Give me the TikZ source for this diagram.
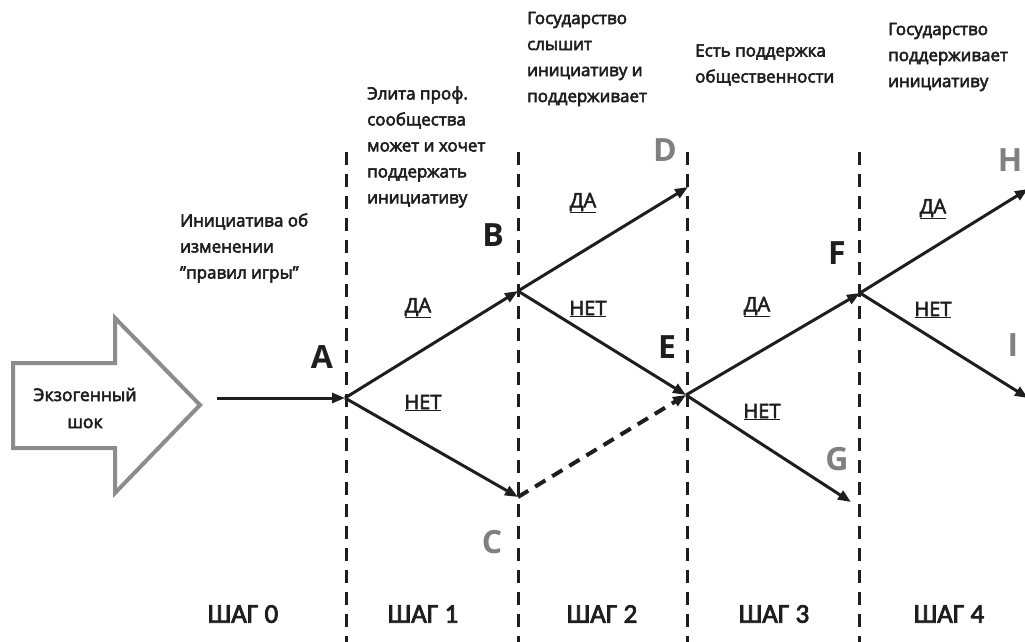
\documentclass[tikz,border=0pt]{standalone}
\usepackage{fontspec}
\setmainfont{Open Sans}
\newfontfamily\stepfont{Carlito}
\newcommand\embold[2][0.55]{\special{pdf:literal direct 2 Tr #1 w}#2\special{pdf:literal direct 0 Tr}}
\usetikzlibrary{arrows.meta}
\definecolor{lblgray}{RGB}{128,128,128}
\definecolor{shockgray}{RGB}{140,140,140}
\definecolor{ink}{RGB}{30,30,30}
\begin{document}
\begin{tikzpicture}[x=1pt,y=-1pt,
  vline/.style={line width=3pt, draw=ink, dash pattern=on 13pt off 9pt},
  arr/.style={line width=3pt, draw=ink, -{Triangle[length=13pt,width=10pt]}},
  darr/.style={arr, dash pattern=on 12pt off 8pt, line width=4pt},
  txt/.style={font=\fontsize{17}{26}\selectfont, align=left, anchor=west, inner sep=0pt, text=ink},
  lbl/.style={font=\fontsize{32}{32}\selectfont\bfseries, text=ink, inner sep=0pt},
  glbl/.style={lbl, text=lblgray},
  yn/.style={font=\fontsize{20}{22}\selectfont, text=ink, inner sep=0pt},
  steplbl/.style={font=\stepfont\fontsize{27}{27}\selectfont, text=ink, inner sep=0pt},
  shock/.style={draw=shockgray, line width=4pt, fill=white, line join=miter}
]
\useasboundingbox (0,0) rectangle (1025,641);
% dashed step separators
\foreach \x/\n in {346/v0,518/v1,687/v2,859/v3}{
  \coordinate (\n t) at (\x,152);
  \coordinate (\n b) at (\x,645);
  \draw[vline] (\n t) -- (\n b);
}
% exogenous shock arrow
\draw[shock] (13,363) -- (115,363) -- (115,318) -- (200,405) -- (115,493) -- (115,448) -- (13,448) -- cycle;
\node[font=\fontsize{17.5}{27}\selectfont, align=center, text=ink] (shock) at (85,408) {\embold{Экзогенный\\шок}};
% junction points
\coordinate (s) at (217,398);
\coordinate (A) at (345,398);
\coordinate (B) at (518,291);
\coordinate (C) at (518,497);
\coordinate (D) at (688,187);
\coordinate (E) at (686,395);
\coordinate (F) at (860,293);
\coordinate (G) at (851,502);
\coordinate (H) at (1028,189);
\coordinate (I) at (1028,398);
% connectors
\draw[arr] (s) -- (A);
\draw[arr] (A) -- (B);
\draw[arr] (A) -- (C);
\draw[arr] (B) -- (D);
\draw[arr] (B) -- (E);
\draw[darr] (C) -- (E);
\draw[arr] (E) -- (F);
\draw[arr] (E) -- (G);
\draw[arr] (F) -- (H);
\draw[arr] (F) -- (I);
% letter labels
\node[lbl]  (lA) at (322,357) {A};
\node[lbl]  (lB) at (493,235) {B};
\node[glbl] (lC) at (492,542) {C};
\node[glbl] (lD) at (665,150) {D};
\node[lbl]  (lE) at (667,347) {E};
\node[lbl]  (lF) at (837,253) {F};
\node[glbl] (lG) at (837,459) {G};
\node[glbl] (lH) at (1010,160) {H};
\node[glbl] (lI) at (1013,345) {I};
% yes / no labels
\node[yn] (y1) at (418,308) {\embold{\underline{ДА}}};
\node[yn] (n1) at (423,403) {\embold{\underline{НЕТ}}};
\node[yn] (y2) at (583,203) {\embold{\underline{ДА}}};
\node[yn] (n2) at (588,309) {\embold{\underline{НЕТ}}};
\node[yn] (y3) at (757,307) {\embold{\underline{ДА}}};
\node[yn] (n3) at (762,412) {\embold{\underline{НЕТ}}};
\node[yn] (y4) at (933,209) {\embold{\underline{ДА}}};
\node[yn] (n4) at (933,310) {\embold{\underline{НЕТ}}};
% explanatory texts
\node[txt] (t0) at (180,248) {\embold{Инициатива об\\изменении\\\char34 правил игры\char34}};
\node[txt] (t1) at (367,147) {\embold{Элита проф.\\сообщества\\может и хочет\\поддержать\\инициативу}};
\node[txt] (t2) at (527,59) {\embold{Государство\\слышит\\инициативу и\\поддерживает}};
\node[txt] (t3) at (695,65) {\embold{Есть поддержка\\общественности}};
\node[txt] (t4) at (888,57) {\embold{Государство\\поддерживает\\инициативу}};
% step labels
\node[steplbl] (s0) at (243,614) {\embold[0.8]{ШАГ 0}};
\node[steplbl] (s1) at (423,614) {\embold[0.8]{ШАГ 1}};
\node[steplbl] (s2) at (602,614) {\embold[0.8]{ШАГ 2}};
\node[steplbl] (s3) at (774,614) {\embold[0.8]{ШАГ 3}};
\node[steplbl] (s4) at (949,614) {\embold[0.8]{ШАГ 4}};
\end{tikzpicture}
\end{document}
